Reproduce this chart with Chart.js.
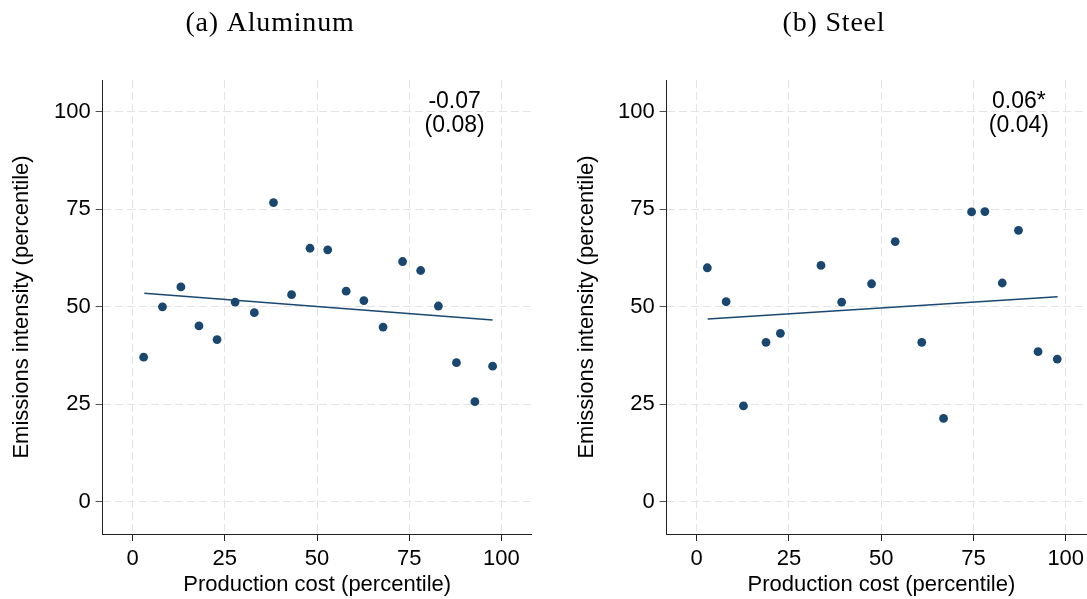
<!DOCTYPE html>
<html>
<head>
<meta charset="utf-8">
<script src="https://cdn.jsdelivr.net/npm/chart.js@4"></script>
<style>
html, body { margin: 0; padding: 0; background: #fff; overflow: hidden; }
#wrap { position: relative; width: 1087px; height: 599px; overflow: hidden; }
canvas { position: absolute; top: 0; }
#c1 { left: 0; }
#c2 { left: 555px; }
</style>
</head>
<body>
<div id="wrap">
<canvas id="c1" width="545" height="599"></canvas>
<canvas id="c2" width="555" height="599"></canvas>
</div>
<script>
// binned scatter
const alumCost = [3.0, 8.1, 13.1, 18.0, 22.9, 27.8, 33.0, 38.2, 43.1, 48.1, 52.9, 57.9, 62.7, 67.9, 73.2, 78.1, 82.9, 87.8, 92.8, 97.6]
const alumEmis = [37.1, 50.0, 55.1, 45.1, 41.6, 51.2, 48.5, 76.7, 53.1, 65.0, 64.6, 54.0, 51.6, 44.8, 61.6, 59.3, 50.2, 35.7, 25.7, 34.8]
const steelCost = [2.9, 8.0, 12.7, 18.8, 22.7, 33.7, 39.3, 47.4, 53.8, 61.0, 66.9, 74.5, 78.1, 82.8, 87.2, 92.5, 97.7]
const steelEmis = [60.0, 51.3, 24.6, 40.9, 43.2, 60.6, 51.2, 55.9, 66.7, 40.9, 21.4, 74.3, 74.4, 56.1, 69.6, 38.5, 36.6]

// fitted lines (end points)
const alumFitX = [3.2, 97.6], alumFitY = [53.5, 46.6]
const steelFitX = [3.0, 97.8], steelFitY = [46.9, 52.6]

// slope and s.e. shown top right
const alumNote = ["-0.07", "(0.08)"]
const steelNote = ["0.06*", "(0.04)"]
const noteX = 87.3, noteY = [102.6, 96.3]

const tickValues = [0, 25, 50, 75, 100]
const xRange = [-8.1, 108.2], yRange = [-8.2, 108.1]

const navy = "#1a476f"
const sans = "'Liberation Sans', Arial, sans-serif"
const serif = "'Liberation Serif', 'Times New Roman', serif"

// panel heading + slope note, drawn by hand (heading needs letter spacing)
const notePlugin = {
    id: "note",
    afterDatasetsDraw(chart, args, opts) {
        let ctx = chart.ctx, x = chart.scales.x, y = chart.scales.y
        ctx.save()
        ctx.font = "23px " + sans
        ctx.fillStyle = "#000"
        ctx.textAlign = "center"
        ctx.textBaseline = "middle"
        opts.lines.forEach((t, i) => ctx.fillText(t, x.getPixelForValue(noteX), y.getPixelForValue(noteY[i])))
        ctx.font = "28px " + serif
        ctx.letterSpacing = "0.8px"
        ctx.fillText(opts.heading, opts.headX, 24)
        ctx.restore()
    }
}

function toPoints(xs, ys) {
    return xs.map((v, i) => ({ x: v, y: ys[i] }))
}

function axis(min, max, title, titlePad, fit) {
    return {
        type: "linear",
        min: min,
        max: max,
        afterBuildTicks: s => { s.ticks = tickValues.map(v => ({ value: v })) },
        afterFit: fit,
        ticks: { color: "#000", font: { family: sans, size: 22 }, padding: 5 },
        grid: {
            color: "#e4e4e4",
            lineWidth: 1,
            tickColor: "#222",
            tickBorderDash: [1, 0],
            tickLength: 7,
            tickWidth: 1
        },
        border: { display: true, color: "#222", width: 1, dash: [8, 4] },
        title: { display: true, text: title, color: "#000", font: { family: sans, size: 22 }, padding: titlePad }
    }
}

function makeChart(id, name, headX, cost, emis, fitX, fitY, note, pad, yWidth) {
    return new Chart(document.getElementById(id), {
        data: {
            datasets: [{
                type: "scatter",
                data: toPoints(cost, emis),
                backgroundColor: navy,
                borderColor: navy,
                pointRadius: 4.4,
                pointBorderWidth: 0
            }, {
                type: "line",
                data: toPoints(fitX, fitY),
                borderColor: navy,
                borderWidth: 1.5,
                pointRadius: 0,
                fill: false
            }]
        },
        options: {
            responsive: false,
            animation: false,
            layout: { padding: { left: pad[0], right: pad[1], top: 80, bottom: 0 } },
            scales: {
                x: axis(xRange[0], xRange[1], "Production cost (percentile)", { top: 0, bottom: 1 }, s => { s.height = 65 }),
                y: axis(yRange[0], yRange[1], "Emissions intensity (percentile)", { top: 1, bottom: 0 }, s => { s.width = yWidth })
            },
            plugins: {
                legend: { display: false },
                tooltip: { enabled: false },
                title: { display: false },
                note: { lines: note, heading: name, headX: headX }
            }
        },
        plugins: [notePlugin]
    })
}

makeChart("c1", "(a) Aluminum", 270, alumCost, alumEmis, alumFitX, alumFitY, alumNote, [8, 13.3], 94.7)
makeChart("c2", "(b) Steel", 834 - 555, steelCost, steelEmis, steelFitX, steelFitY, steelNote, [18, 14], 93.7)
</script>
</body>
</html>
